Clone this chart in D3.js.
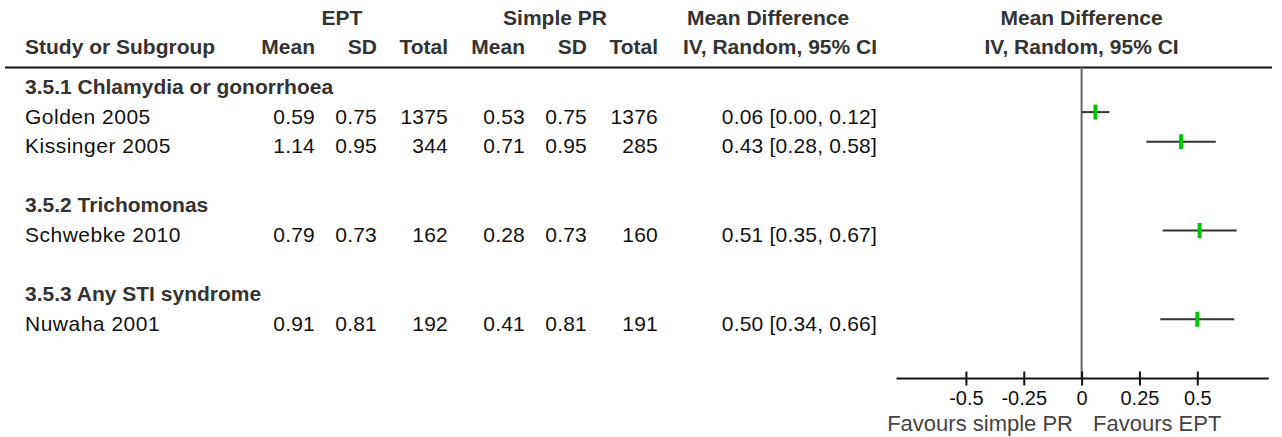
<!DOCTYPE html>
<html>
<head>
<meta charset="utf-8">
<script src="https://cdn.jsdelivr.net/npm/d3@7"></script>
<style>
  html, body { margin: 0; padding: 0; background: #fff; }
  svg { display: block; font-family: "Liberation Sans", Arial, sans-serif; }
</style>
</head>
<body>
<svg id="chart" width="1282" height="437"></svg>
<script>
// data
const groups = ["3.5.1 Chlamydia or gonorrhoea", "3.5.2 Trichomonas", "3.5.3 Any STI syndrome"];
const studies = ["Golden 2005", "Kissinger 2005", "Schwebke 2010", "Nuwaha 2001"];
const studyGroup = [0, 0, 1, 2];
const eptMean = [0.59, 1.14, 0.79, 0.91];
const eptSD = [0.75, 0.95, 0.73, 0.81];
const eptTotal = [1375, 344, 162, 192];
const prMean = [0.53, 0.71, 0.28, 0.41];
const prSD = [0.75, 0.95, 0.73, 0.81];
const prTotal = [1376, 285, 160, 191];
const md = [0.06, 0.43, 0.51, 0.50];
const ciLow = [0.00, 0.28, 0.35, 0.34];
const ciHigh = [0.12, 0.58, 0.67, 0.66];
const xTicks = [-0.5, -0.25, 0, 0.25, 0.5];
const tickLabels = ["-0.5", "-0.25", "0", "0.25", "0.5"];

const svg = d3.select("#chart");

// rows: group header, its studies, blank line before next group
const rows = [];
groups.forEach((g, gi) => {
    if (gi > 0) rows.push({ type: "blank" });
    rows.push({ type: "group", label: g });
    studies.forEach((s, i) => {
        if (studyGroup[i] === gi) rows.push({ type: "study", i: i });
    });
});

const rowY = d3.scaleLinear().domain([0, 10]).range([82.5, 378.5]);
const x = d3.scaleLinear().domain([-0.8, 0.8]).range([896.5, 1266.7]);
const axisY = rowY(10);

const headFill = "#333";
const textFill = "#111";
const fs = "21px";

// column headers
const cols = [
    { key: "mean1", x: 315 }, { key: "sd1", x: 377 }, { key: "tot1", x: 448 },
    { key: "mean2", x: 525 }, { key: "sd2", x: 587 }, { key: "tot2", x: 658 },
    { key: "ci", x: 877 }
];
const head1 = [
    { t: "EPT", x: 342 }, { t: "Simple PR", x: 555 },
    { t: "Mean Difference", x: 768 }, { t: "Mean Difference", x: x(0) }
];
const head2 = ["Mean", "SD", "Total", "Mean", "SD", "Total", "IV, Random, 95% CI"];

svg.append("g").selectAll("text")
    .data(head1).join("text")
    .attr("x", d => d.x).attr("y", 25)
    .attr("text-anchor", "middle")
    .attr("font-weight", "bold").attr("font-size", fs).attr("fill", headFill)
    .text(d => d.t);

const h2 = svg.append("g").attr("font-weight", "bold").attr("font-size", fs).attr("fill", headFill);
h2.append("text").attr("x", 25).attr("y", 54).text("Study or Subgroup");
h2.selectAll("text.col")
    .data(head2).join("text").attr("class", "col")
    .attr("x", (d, i) => cols[i].x).attr("y", 54)
    .attr("text-anchor", "end")
    .text(d => d);
h2.append("text").attr("x", x(0)).attr("y", 54).attr("text-anchor", "middle")
    .text("IV, Random, 95% CI");

// rule under the header
svg.append("line")
    .attr("x1", 5).attr("x2", 1272)
    .attr("y1", 67.5).attr("y2", 67.5)
    .attr("stroke", "#111").attr("stroke-width", 2);

// table body
const body = svg.append("g").attr("font-size", fs);
rows.forEach((r, ri) => {
    const y = rowY(ri);
    if (r.type === "group") {
        body.append("text").attr("x", 25).attr("y", y + 11)
            .attr("font-weight", "bold").attr("fill", headFill).text(r.label);
    } else if (r.type === "study") {
        const i = r.i;
        const vals = [
            eptMean[i].toFixed(2), eptSD[i].toFixed(2), eptTotal[i],
            prMean[i].toFixed(2), prSD[i].toFixed(2), prTotal[i],
            `${md[i].toFixed(2)} [${ciLow[i].toFixed(2)}, ${ciHigh[i].toFixed(2)}]`
        ];
        body.append("text").attr("x", 25).attr("y", y + 11.5)
            .attr("fill", textFill).attr("letter-spacing", "0.5px").text(studies[i]);
        vals.forEach((v, c) => {
            body.append("text").attr("x", cols[c].x).attr("y", y + 11.5)
                .attr("text-anchor", "end").attr("fill", textFill)
                .attr("letter-spacing", "0.2px")
                .text(v);
        });
    }
});

// zero line
svg.append("line")
    .attr("x1", x(0)).attr("x2", x(0))
    .attr("y1", 67.5).attr("y2", axisY)
    .attr("stroke", "#666").attr("stroke-width", 2);

// confidence intervals and point estimates
const studyRows = rows.map((r, ri) => ({ ...r, ri })).filter(r => r.type === "study");
const plot = svg.append("g");
plot.selectAll("line.ci")
    .data(studyRows).join("line").attr("class", "ci")
    .attr("x1", d => x(ciLow[d.i])).attr("x2", d => x(ciHigh[d.i]))
    .attr("y1", d => rowY(d.ri)).attr("y2", d => rowY(d.ri))
    .attr("stroke", "#333").attr("stroke-width", 2);
plot.selectAll("rect.est")
    .data(studyRows).join("rect").attr("class", "est")
    .attr("x", d => x(md[d.i]) - 2).attr("width", 4)
    .attr("y", d => rowY(d.ri) - 7.5).attr("height", 15)
    .attr("fill", "#00c800");

// x axis
const axis = svg.append("g")
    .attr("transform", `translate(0,${axisY})`)
    .call(d3.axisBottom(x).tickValues(xTicks)
        .tickFormat((d, i) => tickLabels[i])
        .tickSizeOuter(0).tickSizeInner(7).tickPadding(5));
axis.select(".domain").attr("stroke", "#111").attr("stroke-width", 2)
    .attr("d", `M${x.range()[0]},0H${x.range()[1] + 2}`);
axis.selectAll(".tick line").attr("y1", -7).attr("stroke", "#111").attr("stroke-width", 2);
axis.selectAll(".tick text")
    .attr("font-size", "20px").attr("font-family", "Liberation Sans, Arial, sans-serif")
    .attr("fill", "#111");

// favours labels
svg.append("text").attr("x", 1073).attr("y", 431)
    .attr("text-anchor", "end").attr("font-size", "22px").attr("fill", "#444")
    .text("Favours simple PR");
svg.append("text").attr("x", 1093).attr("y", 431)
    .attr("font-size", "22px").attr("fill", "#444")
    .text("Favours EPT");
</script>
</body>
</html>
